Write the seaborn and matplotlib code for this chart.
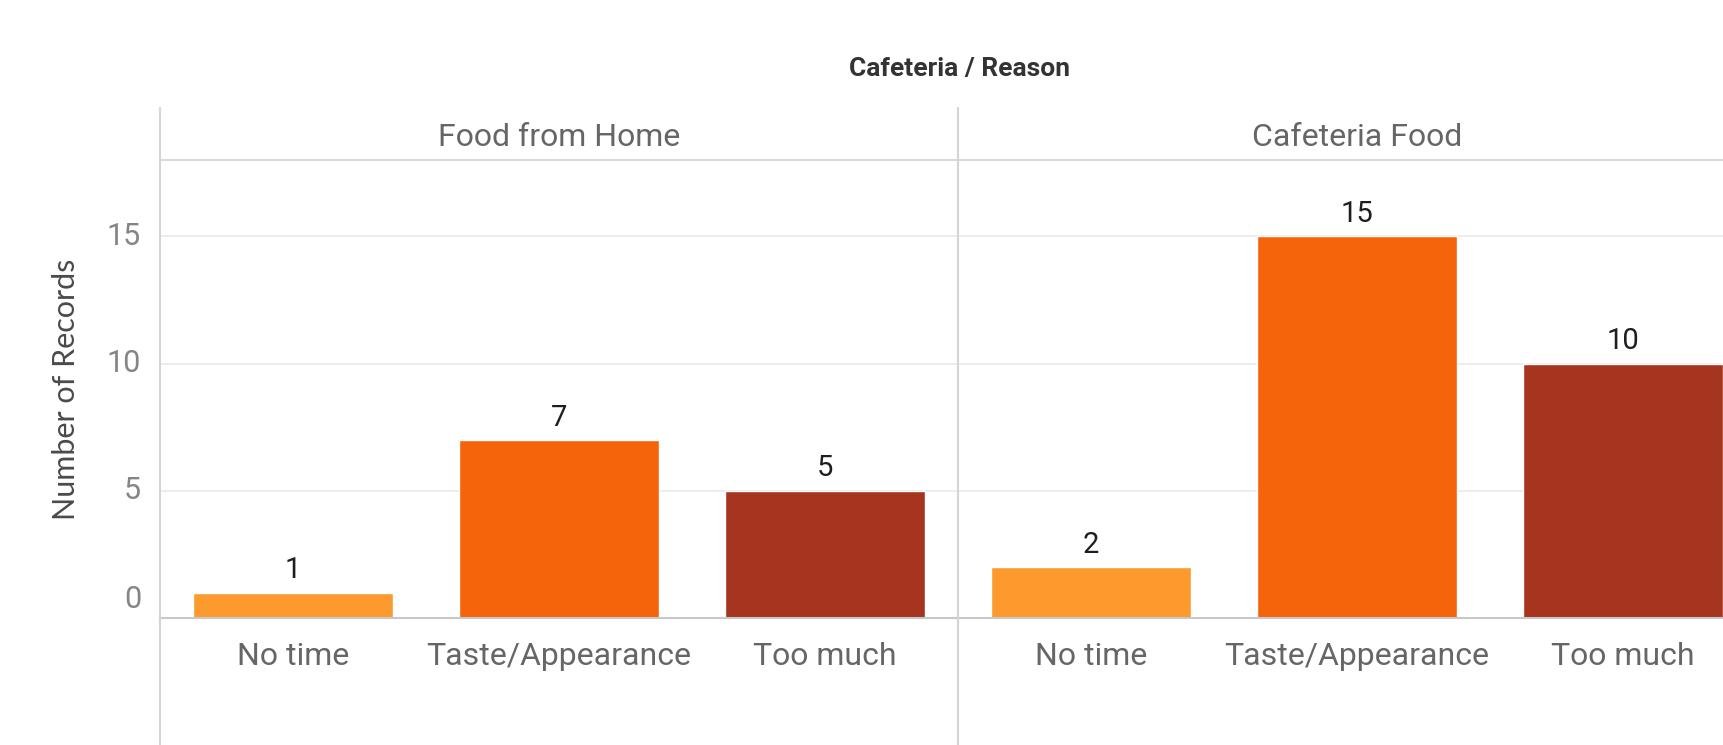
import matplotlib
matplotlib.use("Agg")
import matplotlib.pyplot as plt
import seaborn as sns
import pandas as pd
from matplotlib.lines import Line2D
from matplotlib.transforms import blended_transform_factory, ScaledTranslation

# Data
panels = ["Food from Home", "Cafeteria Food"]
reasons = ["No time", "Taste/Appearance", "Too much"]
home_counts = [1, 7, 5]
cafeteria_counts = [2, 15, 10]
y_ticks = [0, 5, 10, 15]
reason_colors = ["#FD9A2E", "#F5640A", "#A6341F"]

sns.set_theme(style="white")
plt.rcParams["font.family"] = ["Roboto", "DejaVu Sans"]

W, H = 1723, 745
fig = plt.figure(figsize=(W / 100, H / 100), dpi=100)
fig.patch.set_facecolor("white")


def fx(px):
    return px / W


def fy(py):
    return 1 - py / H


top_px, base_px = 160, 618
panel_w = 798
lefts = [160, 958]

df = pd.DataFrame({
    "Cafeteria": [panels[0]] * len(reasons) + [panels[1]] * len(reasons),
    "Reason": reasons * 2,
    "Records": home_counts + cafeteria_counts,
})
palette = dict(zip(reasons, reason_colors))

grid_c = "#ECECEC"
line_c = "#D4D4D4"
base_c = "#C8C8C8"
text_c = "#666666"

for i, (panel, left) in enumerate(zip(panels, lefts)):
    ax = fig.add_axes([fx(left), fy(base_px), panel_w / W, (base_px - top_px) / H])
    sub = df[df["Cafeteria"] == panel]
    sns.barplot(data=sub, x="Reason", y="Records", hue="Reason",
                order=reasons, hue_order=reasons, palette=palette,
                width=0.75, saturation=1, legend=False, errorbar=None, ax=ax)
    ax.set_xlim(-0.5, 2.5)
    ax.set_ylim(0, 18)
    ax.set_xlabel("")
    ax.set_ylabel("")
    ax.set_yticks(y_ticks)
    ax.yaxis.grid(True, color=grid_c, lw=1.3)
    ax.set_axisbelow(True)

    for side in ["left", "right"]:
        ax.spines[side].set_visible(False)
    ax.spines["top"].set_color("#DADADA")
    ax.spines["top"].set_linewidth(1.5)
    ax.spines["bottom"].set_color(base_c)
    ax.spines["bottom"].set_linewidth(1.5)

    ax.tick_params(axis="x", which="major", length=0, pad=17,
                   labelsize=23, labelcolor=text_c)
    ax.set_xticks([0.5, 1.5], minor=True)
    ax.tick_params(axis="x", which="minor", length=9, width=1.2,
                   color="#E3E3E3", direction="out")
    ax.tick_params(axis="y", which="both", labelleft=False, length=0)

    for c in ax.containers:
        ax.bar_label(c, fmt="%d", padding=6, fontsize=21, color="#1E1E1E")

    if i == 0:
        ax.set_yticks([0], minor=True)
        ax.tick_params(axis="y", which="minor", length=10, width=1.5,
                       color=base_c, direction="out")
        trans = blended_transform_factory(ax.transAxes, ax.transData)
        for v in y_ticks:
            dy = 0.18 if v == 0 else 0.0
            t = trans + ScaledTranslation(-0.19, dy, fig.dpi_scale_trans)
            ax.text(0, v, str(v), transform=t, ha="right", va="center",
                    fontsize=22, color="#858585")

    fig.text(fx(left + panel_w / 2), fy(138), panel, ha="center", va="center",
             fontsize=23, color=text_c)

# Panel dividers
for left in lefts:
    fig.add_artist(Line2D([fx(left), fx(left)], [fy(108), fy(745)],
                          color=line_c, lw=1.5, transform=fig.transFigure))

fig.text(fx(960), fy(69), "Cafeteria / Reason", ha="center", va="center",
         fontsize=19, fontweight="bold", color="#333333")
fig.text(fx(66), fy(389), "Number of Records", rotation=90, ha="center",
         va="center", fontsize=22, color="#4A4A4A",
         family=["Lato", "DejaVu Sans"])

fig.savefig("out.png", dpi=100)
